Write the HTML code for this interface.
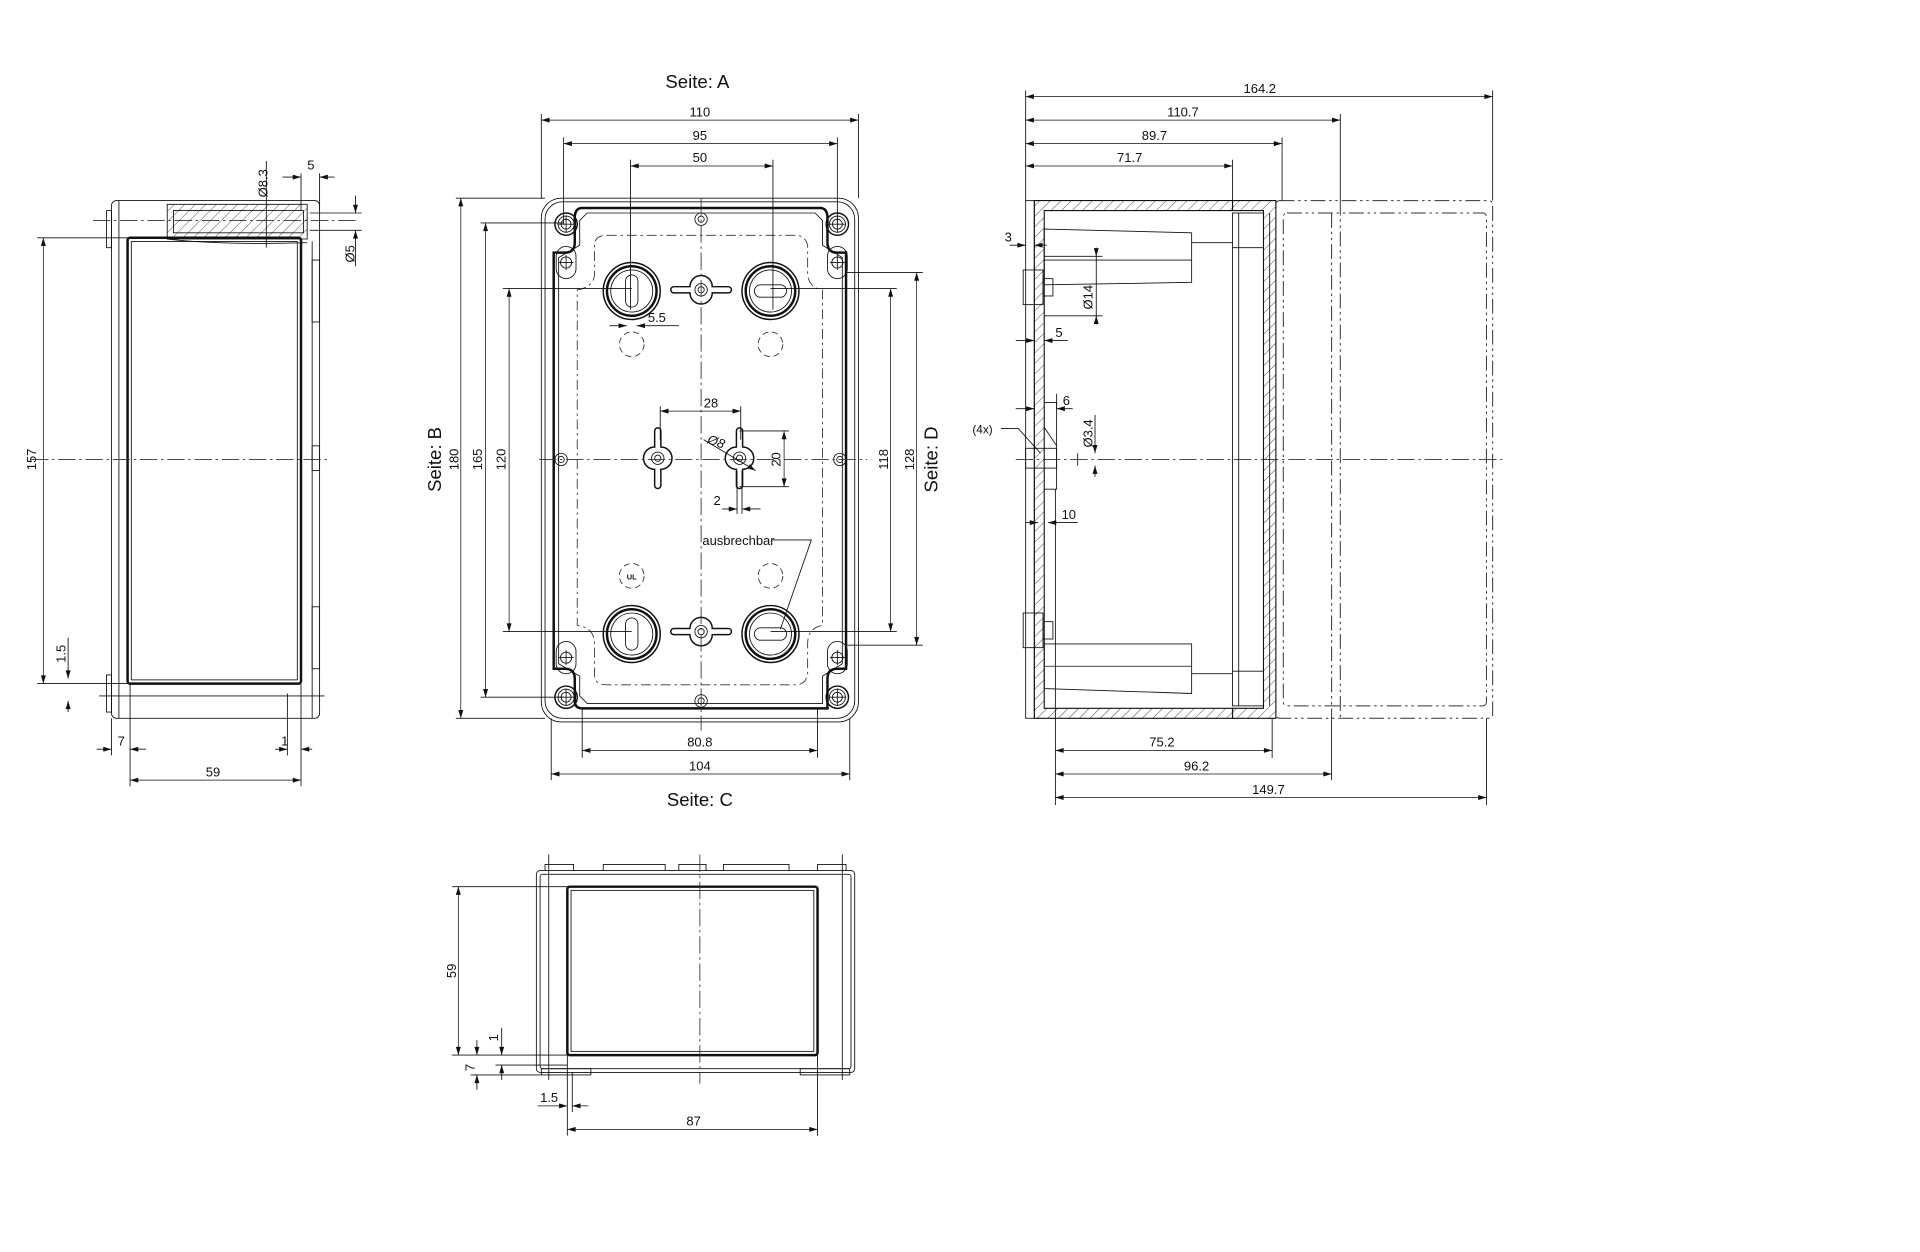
<!DOCTYPE html>
<html><head><meta charset="utf-8"><style>
html,body{margin:0;padding:0;background:#fff;width:1920px;height:1252px;overflow:hidden}
svg{display:block}
text{font-family:"Liberation Sans",sans-serif;font-size:10.5px;fill:#111}
.t{font-size:15px}
.th{stroke:#111;stroke-width:0.7;fill:none}
.tk{stroke:#111;stroke-width:2;fill:none}
.md{stroke:#111;stroke-width:1.2;fill:none}
.dm{stroke:#111;stroke-width:0.6;fill:none;marker-start:url(#a);marker-end:url(#a)}
.cl{stroke:#333;stroke-width:0.7;fill:none;stroke-dasharray:14 3 2 3}
.ph{stroke:#333;stroke-width:0.8;fill:none;stroke-dasharray:12 3 2 3 2 3}
.ds{stroke:#333;stroke-width:0.7;fill:none;stroke-dasharray:8 3 2 3}
.dc{stroke:#333;stroke-width:0.7;fill:none;stroke-dasharray:5 3}
</style></head><body>
<svg width="1920" height="1252" viewBox="0 0 1550 1011" preserveAspectRatio="none" xmlns="http://www.w3.org/2000/svg">
<defs>
<marker id="a" viewBox="0 0 10 6" refX="10" refY="3" markerWidth="8" markerHeight="4" orient="auto-start-reverse" markerUnits="userSpaceOnUse"><path d="M0,0 L10,3 L0,6z" fill="#111"/></marker>
<pattern id="h" width="6" height="6" patternUnits="userSpaceOnUse" patternTransform="rotate(45)"><line x1="0" y1="0" x2="0" y2="6" stroke="#111" stroke-width="0.6"/></pattern>
<g id="cs"><circle r="9" class="md"/><circle r="6.5" class="th"/><circle r="4" class="th"/><line x1="-7" y1="0" x2="7" y2="0" class="th"/><line x1="0" y1="-7" x2="0" y2="7" class="th"/></g>
<g id="kh"><path d="M-8,-5 A8,8 0 0 1 8,-5 L8,5 A8,8 0 0 1 -8,5z" class="th"/><circle r="4.5" class="th"/><line x1="-6" y1="0" x2="6" y2="0" class="th"/><line x1="0" y1="-6" x2="0" y2="6" class="th"/></g>
<g id="bh"><circle r="23" class="md"/><circle r="20" class="tk"/><circle r="17" class="th"/></g>
<g id="wn"><path d="M-22,-2.5 L-9,-2.5 A9,9 0 0 1 9,-2.5 L22,-2.5 A2.5,2.5 0 0 1 22,2.5 L9,2.5 A9,9 0 0 1 -9,2.5 L-22,2.5 A2.5,2.5 0 0 1 -22,-2.5z" class="md"/><circle r="5" class="th"/><circle r="2.5" class="th"/></g>
<g id="ss"><circle r="5" class="th"/><circle r="2.5" class="th"/></g>
</defs>

<!-- ============ LEFT VIEW ============ -->
<rect x="90" y="162" width="168" height="418" rx="4" class="th"/>
<line x1="96" y1="162" x2="96" y2="580" class="th"/>
<line x1="252" y1="195" x2="252" y2="580" class="th"/>
<rect x="103" y="192" width="140" height="360" rx="2" class="tk"/>
<rect x="106" y="195" width="134" height="354" class="th"/>
<rect x="135" y="165" width="113" height="28" fill="url(#h)" stroke="#111" stroke-width="0.7"/>
<rect x="140" y="170" width="105" height="18" fill="#fff" class="th"/>
<path d="M135,193 Q180,198 248,196" class="th"/>
<rect x="252" y="210" width="6" height="50" class="th"/><rect x="252" y="360" width="6" height="20" class="th"/><rect x="252" y="490" width="6" height="50" class="th"/>
<rect x="86" y="170" width="4" height="30" class="th"/><rect x="86" y="545" width="4" height="30" class="th"/>
<line x1="75" y1="178" x2="290" y2="178" class="cl"/>
<line x1="25" y1="371" x2="265" y2="371" class="cl"/>
<line x1="80" y1="562" x2="262" y2="562" class="th"/>
<line x1="30" y1="192" x2="103" y2="192" class="th"/>
<line x1="30" y1="552" x2="103" y2="552" class="th"/>
<line x1="35" y1="192" x2="35" y2="552" class="dm"/>
<text transform="translate(29,371) rotate(-90)" text-anchor="middle">157</text>
<line x1="55" y1="515" x2="55" y2="548" class="th" marker-end="url(#a)"/><line x1="55" y1="566" x2="55" y2="575" class="th" marker-start="url(#a)"/>
<text transform="translate(53,528) rotate(-90)" text-anchor="middle">1.5</text>
<line x1="90" y1="580" x2="90" y2="610" class="th"/><line x1="105" y1="552" x2="105" y2="635" class="th"/>
<line x1="243" y1="552" x2="243" y2="635" class="th"/><line x1="232" y1="560" x2="232" y2="610" class="th"/>
<line x1="78" y1="605" x2="90" y2="605" class="th" marker-end="url(#a)"/><line x1="105" y1="605" x2="118" y2="605" class="th" marker-start="url(#a)"/>
<text x="95" y="602">7</text>
<line x1="222" y1="605" x2="232" y2="605" class="th" marker-end="url(#a)"/><line x1="243" y1="605" x2="252" y2="605" class="th" marker-start="url(#a)"/>
<text x="227" y="602">1</text>
<line x1="105" y1="630" x2="243" y2="630" class="dm"/><text x="172" y="627" text-anchor="middle">59</text>
<line x1="215" y1="130" x2="215" y2="200" class="th"/>
<text transform="translate(216,148) rotate(-90)" text-anchor="middle">Ø8.3</text>
<line x1="243" y1="140" x2="243" y2="170" class="th"/><line x1="258" y1="140" x2="258" y2="170" class="th"/>
<line x1="228" y1="143" x2="243" y2="143" class="th" marker-end="url(#a)"/><line x1="258" y1="143" x2="270" y2="143" class="th" marker-start="url(#a)"/>
<text x="248" y="137">5</text>
<line x1="250" y1="172" x2="292" y2="172" class="th"/><line x1="250" y1="186" x2="292" y2="186" class="th"/>
<line x1="287" y1="158" x2="287" y2="172" class="th" marker-end="url(#a)"/><line x1="287" y1="186" x2="287" y2="215" class="th" marker-start="url(#a)"/>
<text transform="translate(286,205) rotate(-90)" text-anchor="middle">Ø5</text>

<!-- ============ MAIN VIEW ============ -->
<text x="563" y="71" class="t" text-anchor="middle">Seite: A</text>
<text x="565" y="651" class="t" text-anchor="middle">Seite: C</text>
<text transform="translate(356,371) rotate(-90)" class="t" text-anchor="middle">Seite: B</text>
<text transform="translate(757,371) rotate(-90)" class="t" text-anchor="middle">Seite: D</text>
<rect x="437" y="160" width="256" height="423" rx="16" class="th"/>
<rect x="440" y="163" width="250" height="417" rx="14" class="th"/>
<path d="M470,168 L662,168 Q668,168 668,176 L668,196 Q668,204 676,204 L683,204 L683,540 L676,540 Q668,540 668,548 L668,572 L470,572 Q464,572 464,566 L464,548 Q464,540 456,540 L447,540 L447,204 L456,204 Q464,204 464,196 L464,176 Q464,168 470,168z" class="tk"/>
<path d="M474,172 L658,172 L664,178 L664,198 L680,208 L680,536 L664,546 L664,568 L474,568 L468,562 L468,546 L451,536 L451,208 L468,198 L468,178z" class="th"/>
<path d="M490,190 L642,190 Q650,190 652,198 L652,220 Q652,232 664,234 L664,505 Q652,507 652,520 L652,545 Q650,553 642,553 L490,553 Q480,553 480,545 L480,520 Q480,507 466,505 L466,234 Q480,232 480,220 L480,198 Q480,190 490,190z" class="ds"/>
<use href="#cs" x="457" y="181"/><use href="#cs" x="676" y="181"/><use href="#cs" x="457" y="563"/><use href="#cs" x="676" y="563"/>
<use href="#kh" x="457" y="212"/><use href="#kh" x="676" y="212"/><use href="#kh" x="457" y="531"/><use href="#kh" x="676" y="531"/>
<use href="#bh" x="510" y="235"/><use href="#bh" x="622" y="235"/><use href="#bh" x="510" y="512"/><use href="#bh" x="622" y="512"/>
<rect x="505" y="222" width="10" height="26" rx="5" class="th"/><rect x="505" y="499" width="10" height="26" rx="5" class="th"/>
<rect x="609" y="230" width="26" height="10" rx="5" class="th"/><rect x="609" y="507" width="26" height="10" rx="5" class="th"/>
<use href="#wn" x="566" y="234"/><use href="#wn" x="566" y="510"/>
<use href="#wn" transform="translate(531,370) rotate(90)"/><use href="#wn" transform="translate(597,370) rotate(90)"/>
<use href="#ss" x="566" y="177"/><use href="#ss" x="566" y="566"/><use href="#ss" x="453" y="371"/><use href="#ss" x="678" y="371"/>
<circle cx="510" cy="278" r="10" class="dc"/><circle cx="622" cy="278" r="10" class="dc"/><circle cx="622" cy="465" r="10" class="dc"/><circle cx="510" cy="465" r="10" class="dc"/>
<text x="510" y="468" text-anchor="middle" style="font-size:6px;font-weight:bold">UL</text>
<line x1="566" y1="160" x2="566" y2="590" class="cl"/>
<line x1="435" y1="371" x2="700" y2="371" class="cl"/>
<!-- top dims -->
<line x1="437" y1="92" x2="437" y2="160" class="th"/><line x1="693" y1="92" x2="693" y2="160" class="th"/>
<line x1="437" y1="97" x2="693" y2="97" class="dm"/><text x="565" y="94" text-anchor="middle">110</text>
<line x1="455" y1="111" x2="455" y2="181" class="th"/><line x1="676" y1="111" x2="676" y2="181" class="th"/>
<line x1="455" y1="116" x2="676" y2="116" class="dm"/><text x="565" y="113" text-anchor="middle">95</text>
<line x1="509" y1="129" x2="509" y2="250" class="th"/><line x1="624" y1="129" x2="624" y2="250" class="th"/>
<line x1="509" y1="134" x2="624" y2="134" class="dm"/><text x="565" y="131" text-anchor="middle">50</text>
<!-- left dims -->
<line x1="368" y1="160" x2="440" y2="160" class="th"/><line x1="368" y1="580" x2="440" y2="580" class="th"/>
<line x1="372" y1="160" x2="372" y2="580" class="dm"/><text transform="translate(370,371) rotate(-90)" text-anchor="middle">180</text>
<line x1="388" y1="180" x2="455" y2="180" class="th"/><line x1="388" y1="563" x2="455" y2="563" class="th"/>
<line x1="392" y1="180" x2="392" y2="563" class="dm"/><text transform="translate(389,371) rotate(-90)" text-anchor="middle">165</text>
<line x1="406" y1="233" x2="510" y2="233" class="th"/><line x1="406" y1="510" x2="510" y2="510" class="th"/>
<line x1="411" y1="233" x2="411" y2="510" class="dm"/><text transform="translate(408,371) rotate(-90)" text-anchor="middle">120</text>
<!-- right dims -->
<line x1="622" y1="233" x2="724" y2="233" class="th"/><line x1="622" y1="510" x2="724" y2="510" class="th"/>
<line x1="719" y1="233" x2="719" y2="510" class="dm"/><text transform="translate(717,371) rotate(-90)" text-anchor="middle">118</text>
<line x1="683" y1="220" x2="745" y2="220" class="th"/><line x1="683" y1="521" x2="745" y2="521" class="th"/>
<line x1="740" y1="220" x2="740" y2="521" class="dm"/><text transform="translate(738,371) rotate(-90)" text-anchor="middle">128</text>
<!-- bottom dims -->
<line x1="470" y1="572" x2="470" y2="612" class="th"/><line x1="660" y1="572" x2="660" y2="612" class="th"/>
<line x1="470" y1="606" x2="660" y2="606" class="dm"/><text x="565" y="603" text-anchor="middle">80.8</text>
<line x1="445" y1="580" x2="445" y2="630" class="th"/><line x1="686" y1="580" x2="686" y2="630" class="th"/>
<line x1="445" y1="625" x2="686" y2="625" class="dm"/><text x="565" y="622" text-anchor="middle">104</text>
<!-- inner dims -->
<line x1="533" y1="328" x2="533" y2="355" class="th"/><line x1="598" y1="328" x2="598" y2="355" class="th"/>
<line x1="533" y1="332" x2="598" y2="332" class="dm"/><text x="574" y="329" text-anchor="middle">28</text>
<line x1="597" y1="348" x2="637" y2="348" class="th"/><line x1="597" y1="393" x2="637" y2="393" class="th"/>
<line x1="633" y1="348" x2="633" y2="393" class="dm"/><text transform="translate(630,371) rotate(-90)" text-anchor="middle">20</text>
<line x1="568" y1="355" x2="610" y2="380" class="th" marker-end="url(#a)"/>
<text transform="translate(577,360) rotate(20)" text-anchor="middle" style="font-style:italic">Ø8</text>
<line x1="595" y1="380" x2="595" y2="415" class="th"/><line x1="599" y1="380" x2="599" y2="415" class="th"/>
<line x1="583" y1="411" x2="595" y2="411" class="th" marker-end="url(#a)"/><line x1="599" y1="411" x2="614" y2="411" class="th" marker-start="url(#a)"/>
<text x="576" y="408">2</text>
<line x1="492" y1="263" x2="506" y2="263" class="th" marker-end="url(#a)"/><line x1="514" y1="263" x2="548" y2="263" class="th" marker-start="url(#a)"/>
<text x="523" y="260">5.5</text>
<text x="567" y="440">ausbrechbar</text>
<path d="M624,436 L655,436 L630,508" class="th"/>

<!-- ============ RIGHT SECTION VIEW ============ -->
<path d="M835,162 L995,162 L995,170 L843,170 L843,572 L995,572 L995,580 L835,580z" fill="url(#h)" stroke="#111" stroke-width="0.9"/>
<path d="M995,162 L1030,162 L1030,580 L995,580 L995,572 L1020,572 L1020,170 L995,170z" fill="url(#h)" stroke="#111" stroke-width="0.9"/>
<rect x="995" y="172" width="25" height="398" fill="#fff" class="th"/>
<line x1="1000" y1="172" x2="1000" y2="570" class="th"/>
<line x1="1025" y1="172" x2="1025" y2="570" class="th"/>
<rect x="828" y="162" width="7" height="418" class="th"/>
<path d="M843,185 L962,188 L962,228 L843,230z" class="th"/><line x1="843" y1="210" x2="962" y2="210" class="th"/>
<line x1="962" y1="196" x2="995" y2="196" class="th"/><line x1="995" y1="200" x2="1020" y2="200" class="th"/>
<path d="M843,520 L962,520 L962,560 L843,556z" class="th"/><line x1="843" y1="538" x2="962" y2="538" class="th"/>
<line x1="962" y1="544" x2="995" y2="544" class="th"/><line x1="995" y1="542" x2="1020" y2="542" class="th"/>
<rect x="826" y="218" width="16" height="28" class="th"/><rect x="842" y="225" width="8" height="14" class="th"/>
<rect x="826" y="495" width="16" height="28" class="th"/><rect x="842" y="502" width="8" height="14" class="th"/>
<path d="M843,325 L853,325 L853,395 L843,395" class="th"/>
<path d="M843,345 L853,360" class="th"/>
<rect x="828" y="362" width="25" height="16" class="th"/>
<line x1="870" y1="366" x2="870" y2="376" class="th"/>
<rect x="1030" y="162" width="175" height="418" rx="3" class="ph"/>
<rect x="1036" y="172" width="164" height="398" rx="3" class="ph"/>
<line x1="1075" y1="172" x2="1075" y2="580" class="ph"/><line x1="1082" y1="162" x2="1082" y2="580" class="ph"/>
<line x1="820" y1="371" x2="1215" y2="371" class="cl"/>
<!-- top dims -->
<line x1="828" y1="73" x2="828" y2="162" class="th"/>
<line x1="1205" y1="73" x2="1205" y2="162" class="th"/><line x1="828" y1="78" x2="1205" y2="78" class="dm"/><text x="1017" y="75" text-anchor="middle">164.2</text>
<line x1="1082" y1="92" x2="1082" y2="162" class="th"/><line x1="828" y1="97" x2="1082" y2="97" class="dm"/><text x="955" y="94" text-anchor="middle">110.7</text>
<line x1="1035" y1="111" x2="1035" y2="162" class="th"/><line x1="828" y1="116" x2="1035" y2="116" class="dm"/><text x="932" y="113" text-anchor="middle">89.7</text>
<line x1="995" y1="129" x2="995" y2="162" class="th"/><line x1="828" y1="134" x2="995" y2="134" class="dm"/><text x="912" y="131" text-anchor="middle">71.7</text>
<!-- bottom dims -->
<line x1="852" y1="395" x2="852" y2="650" class="th"/>
<line x1="1027" y1="580" x2="1027" y2="612" class="th"/><line x1="852" y1="606" x2="1027" y2="606" class="dm"/><text x="938" y="603" text-anchor="middle">75.2</text>
<line x1="1075" y1="580" x2="1075" y2="630" class="th"/><line x1="852" y1="625" x2="1075" y2="625" class="dm"/><text x="966" y="622" text-anchor="middle">96.2</text>
<line x1="1200" y1="580" x2="1200" y2="650" class="th"/><line x1="852" y1="644" x2="1200" y2="644" class="dm"/><text x="1024" y="641" text-anchor="middle">149.7</text>
<!-- side small dims -->
<text x="811" y="195">3</text>
<line x1="815" y1="198" x2="828" y2="198" class="th" marker-end="url(#a)"/><line x1="835" y1="198" x2="845" y2="198" class="th" marker-start="url(#a)"/>
<line x1="843" y1="207" x2="890" y2="207" class="th"/><line x1="843" y1="255" x2="890" y2="255" class="th"/>
<line x1="885" y1="200" x2="885" y2="207" class="th" marker-end="url(#a)"/><line x1="885" y1="255" x2="885" y2="262" class="th" marker-start="url(#a)"/>
<line x1="885" y1="207" x2="885" y2="255" class="th"/>
<text transform="translate(882,240) rotate(-90)" text-anchor="middle">Ø14</text>
<line x1="820" y1="275" x2="835" y2="275" class="th" marker-end="url(#a)"/><line x1="843" y1="275" x2="862" y2="275" class="th" marker-start="url(#a)"/>
<text x="852" y="272">5</text>
<line x1="820" y1="330" x2="835" y2="330" class="th" marker-end="url(#a)"/><line x1="853" y1="330" x2="866" y2="330" class="th" marker-start="url(#a)"/>
<line x1="853" y1="318" x2="853" y2="330" class="th"/>
<text x="858" y="327">6</text>
<line x1="884" y1="335" x2="884" y2="366" class="th" marker-end="url(#a)"/><line x1="884" y1="376" x2="884" y2="385" class="th" marker-start="url(#a)"/>
<text transform="translate(882,350) rotate(-90)" text-anchor="middle">Ø3.4</text>
<text x="785" y="350" style="font-size:9.5px">(4x)</text>
<path d="M808,346 L822,346 L840,366" class="th"/>
<line x1="828" y1="422" x2="838" y2="422" class="th" marker-end="url(#a)"/><line x1="846" y1="422" x2="870" y2="422" class="th" marker-start="url(#a)"/>
<text x="857" y="419">10</text>

<!-- ============ BOTTOM VIEW ============ -->
<rect x="433" y="703" width="257" height="163" rx="3" class="th"/>
<rect x="436" y="706" width="251" height="157" rx="2" class="th"/>
<rect x="458" y="716" width="202" height="136" rx="2" class="tk"/>
<rect x="461" y="719" width="196" height="130" class="th"/>
<path d="M440,703 L440,698 L463,698 L463,703 M487,703 L487,698 L537,698 L537,703 M548,703 L548,698 L570,698 L570,703 M584,703 L584,698 L637,698 L637,703 M660,703 L660,698 L683,698 L683,703" class="th"/>
<line x1="443" y1="690" x2="443" y2="872" class="th"/><line x1="680" y1="690" x2="680" y2="872" class="th"/>
<rect x="437" y="863" width="40" height="5" class="th"/><rect x="646" y="863" width="40" height="5" class="th"/>
<line x1="565" y1="690" x2="565" y2="875" class="cl"/>
<line x1="365" y1="716" x2="458" y2="716" class="th"/><line x1="365" y1="852" x2="458" y2="852" class="th"/>
<line x1="370" y1="716" x2="370" y2="852" class="dm"/><text transform="translate(368,784) rotate(-90)" text-anchor="middle">59</text>
<line x1="400" y1="860" x2="458" y2="860" class="th"/><line x1="380" y1="868" x2="437" y2="868" class="th"/>
<line x1="405" y1="830" x2="405" y2="852" class="th" marker-end="url(#a)"/><line x1="405" y1="860" x2="405" y2="872" class="th" marker-start="url(#a)"/>
<text transform="translate(402,838) rotate(-90)" text-anchor="middle">1</text>
<line x1="385" y1="840" x2="385" y2="852" class="th" marker-end="url(#a)"/><line x1="385" y1="868" x2="385" y2="880" class="th" marker-start="url(#a)"/>
<text transform="translate(383,862) rotate(-90)" text-anchor="middle">7</text>
<line x1="458" y1="852" x2="458" y2="917" class="th"/><line x1="660" y1="852" x2="660" y2="917" class="th"/><line x1="462" y1="866" x2="462" y2="898" class="th"/>
<line x1="434" y1="893" x2="458" y2="893" class="th" marker-end="url(#a)"/><line x1="462" y1="893" x2="475" y2="893" class="th" marker-start="url(#a)"/>
<text x="436" y="890">1.5</text>
<line x1="458" y1="912" x2="660" y2="912" class="dm"/><text x="560" y="909" text-anchor="middle">87</text>
</svg>
</body></html>
